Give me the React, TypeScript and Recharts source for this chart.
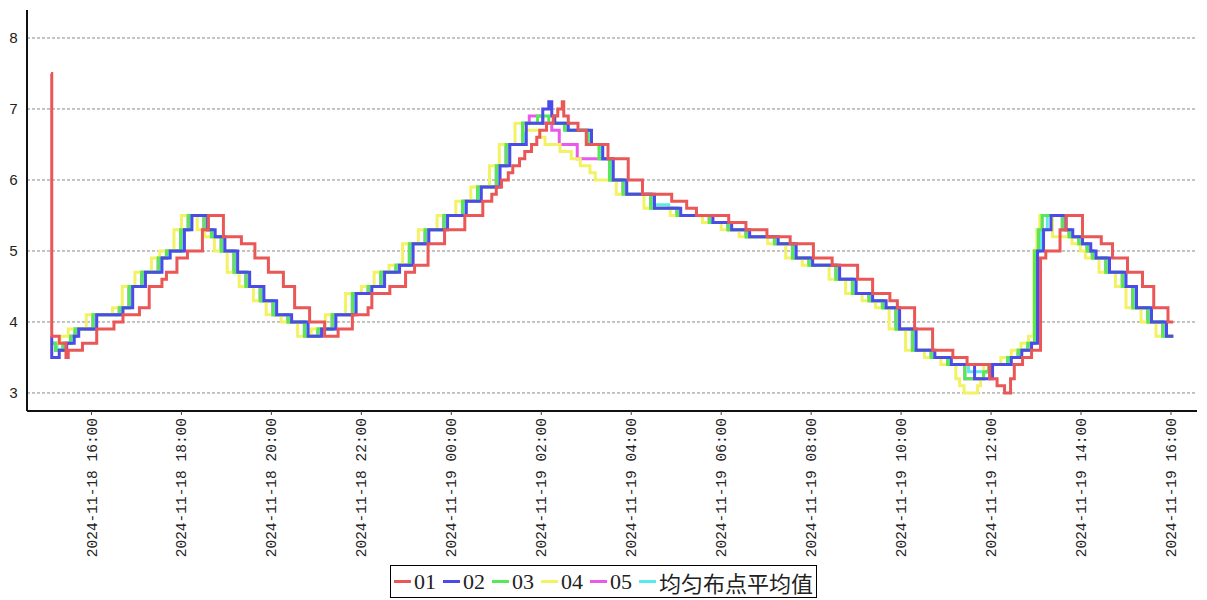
import React from 'react';
import { LineChart, Line, XAxis, YAxis, CartesianGrid, Legend } from 'recharts';

// step points per series: ['day hh:mm', value]
const s01: [string, number][] = [
  ['18 15:06', 7.5], ['18 15:07', 3.8], ['18 15:17', 3.7], ['18 15:26', 3.5], ['18 15:29', 3.6],
  ['18 15:48', 3.7], ['18 16:07', 3.9], ['18 16:30', 4.0], ['18 16:42', 4.1], ['18 17:04', 4.2],
  ['18 17:17', 4.5], ['18 17:34', 4.6], ['18 17:40', 4.7], ['18 17:54', 4.9], ['18 18:08', 5.0],
  ['18 18:28', 5.3], ['18 18:36', 5.5], ['18 18:56', 5.2], ['18 19:20', 5.1], ['18 19:38', 4.9],
  ['18 19:56', 4.7], ['18 20:16', 4.5], ['18 20:31', 4.2], ['18 20:51', 4.0], ['18 21:11', 3.8],
  ['18 21:29', 3.9], ['18 21:48', 4.1], ['18 22:09', 4.2], ['18 22:14', 4.4], ['18 22:38', 4.5],
  ['18 22:59', 4.7], ['18 23:11', 4.8], ['18 23:29', 5.1], ['18 23:51', 5.3], ['19 00:18', 5.5],
  ['19 00:42', 5.7], ['19 00:54', 5.8], ['19 01:00', 5.9], ['19 01:07', 6.0], ['19 01:16', 6.1],
  ['19 01:22', 6.2], ['19 01:31', 6.3], ['19 01:38', 6.4], ['19 01:47', 6.5], ['19 01:54', 6.6],
  ['19 01:58', 6.7], ['19 02:07', 6.8], ['19 02:16', 6.9], ['19 02:22', 7.0], ['19 02:28', 7.1],
  ['19 02:30', 6.9], ['19 02:36', 6.8], ['19 02:49', 6.7], ['19 03:00', 6.5], ['19 03:29', 6.3],
  ['19 03:56', 6.0], ['19 04:15', 5.8], ['19 04:54', 5.7], ['19 05:14', 5.6], ['19 05:27', 5.5],
  ['19 06:10', 5.4], ['19 06:33', 5.3], ['19 07:01', 5.2], ['19 07:32', 5.1], ['19 08:03', 4.9],
  ['19 08:28', 4.8], ['19 09:02', 4.6], ['19 09:22', 4.4], ['19 09:45', 4.3], ['19 09:55', 4.2],
  ['19 10:18', 3.9], ['19 10:42', 3.6], ['19 11:09', 3.5], ['19 11:28', 3.4], ['19 11:58', 3.2],
  ['19 12:08', 3.1], ['19 12:18', 3.0], ['19 12:26', 3.2], ['19 12:31', 3.4], ['19 12:42', 3.5],
  ['19 12:54', 3.6], ['19 13:06', 4.9], ['19 13:13', 5.0], ['19 13:32', 5.3], ['19 13:40', 5.5],
  ['19 14:02', 5.2], ['19 14:27', 5.1], ['19 14:42', 4.9], ['19 15:02', 4.7], ['19 15:22', 4.5],
  ['19 15:37', 4.2], ['19 15:56', 4.0], ['19 16:03', 4.0],
];

const s02: [string, number][] = [
  ['18 15:06', 3.8], ['18 15:07', 3.5], ['18 15:17', 3.6], ['18 15:27', 3.7], ['18 15:37', 3.8],
  ['18 15:43', 3.9], ['18 16:07', 4.1], ['18 16:42', 4.2], ['18 16:55', 4.5], ['18 17:12', 4.7],
  ['18 17:34', 4.9], ['18 17:45', 5.0], ['18 18:04', 5.3], ['18 18:14', 5.5], ['18 18:35', 5.3],
  ['18 18:45', 5.2], ['18 18:58', 5.0], ['18 19:15', 4.7], ['18 19:31', 4.5], ['18 19:50', 4.3],
  ['18 20:07', 4.1], ['18 20:27', 4.0], ['18 20:49', 3.8], ['18 21:07', 3.9], ['18 21:26', 4.1],
  ['18 21:53', 4.4], ['18 22:14', 4.5], ['18 22:31', 4.7], ['18 22:51', 4.8], ['18 23:09', 5.1],
  ['18 23:30', 5.3], ['18 23:55', 5.5], ['19 00:20', 5.7], ['19 00:40', 5.9], ['19 01:05', 6.2],
  ['19 01:18', 6.5], ['19 01:40', 6.8], ['19 02:02', 7.0], ['19 02:10', 7.1], ['19 02:14', 6.9],
  ['19 02:18', 6.8], ['19 02:36', 6.7], ['19 03:07', 6.5], ['19 03:22', 6.3], ['19 03:36', 6.0],
  ['19 03:54', 5.8], ['19 04:31', 5.6], ['19 05:06', 5.5], ['19 05:49', 5.4], ['19 06:14', 5.3],
  ['19 06:38', 5.2], ['19 07:16', 5.1], ['19 07:40', 4.9], ['19 08:02', 4.8], ['19 08:38', 4.6],
  ['19 09:00', 4.4], ['19 09:22', 4.3], ['19 09:40', 4.2], ['19 09:58', 3.9], ['19 10:20', 3.6],
  ['19 10:45', 3.5], ['19 11:07', 3.4], ['19 11:38', 3.2], ['19 12:02', 3.4], ['19 12:27', 3.5],
  ['19 12:41', 3.6], ['19 12:54', 3.7], ['19 13:02', 5.0], ['19 13:10', 5.3], ['19 13:20', 5.5],
  ['19 13:40', 5.3], ['19 13:49', 5.2], ['19 14:02', 5.1], ['19 14:13', 5.0], ['19 14:20', 4.9],
  ['19 14:38', 4.7], ['19 15:00', 4.5], ['19 15:14', 4.2], ['19 15:34', 4.0], ['19 15:54', 3.8],
  ['19 16:03', 3.8],
];

const s03: [string, number][] = [
  ['18 15:06', 3.7], ['18 15:12', 3.6], ['18 15:22', 3.7], ['18 15:32', 3.8], ['18 15:38', 3.9],
  ['18 16:02', 4.1], ['18 16:37', 4.2], ['18 16:50', 4.5], ['18 17:07', 4.7], ['18 17:29', 4.9],
  ['18 17:40', 5.0], ['18 17:59', 5.3], ['18 18:09', 5.5], ['18 18:30', 5.3], ['18 18:40', 5.2],
  ['18 18:53', 5.0], ['18 19:10', 4.7], ['18 19:26', 4.5], ['18 19:45', 4.3], ['18 20:02', 4.1],
  ['18 20:22', 4.0], ['18 20:44', 3.8], ['18 21:02', 3.9], ['18 21:21', 4.1], ['18 21:48', 4.4],
  ['18 22:09', 4.5], ['18 22:26', 4.7], ['18 22:46', 4.8], ['18 23:04', 5.1], ['18 23:25', 5.3],
  ['18 23:50', 5.5], ['19 00:15', 5.7], ['19 00:35', 5.9], ['19 01:00', 6.2], ['19 01:13', 6.5],
  ['19 01:35', 6.8], ['19 01:55', 6.9], ['19 02:10', 6.8], ['19 02:31', 6.7], ['19 03:02', 6.5],
  ['19 03:17', 6.3], ['19 03:31', 6.0], ['19 03:49', 5.8], ['19 04:26', 5.6], ['19 05:01', 5.5],
  ['19 05:44', 5.4], ['19 06:09', 5.3], ['19 06:33', 5.2], ['19 07:11', 5.1], ['19 07:35', 4.9],
  ['19 07:57', 4.8], ['19 08:33', 4.6], ['19 08:55', 4.4], ['19 09:17', 4.3], ['19 09:35', 4.2],
  ['19 09:53', 3.9], ['19 10:15', 3.6], ['19 10:40', 3.5], ['19 11:02', 3.4], ['19 11:25', 3.2],
  ['19 11:50', 3.3], ['19 11:57', 3.4], ['19 12:22', 3.5], ['19 12:36', 3.6], ['19 12:49', 3.7],
  ['19 12:58', 5.0], ['19 13:03', 5.3], ['19 13:08', 5.5], ['19 13:35', 5.3], ['19 13:44', 5.2],
  ['19 13:57', 5.1], ['19 14:08', 5.0], ['19 14:15', 4.9], ['19 14:33', 4.7], ['19 14:55', 4.5],
  ['19 15:09', 4.2], ['19 15:29', 4.0], ['19 15:49', 3.8], ['19 16:03', 3.8],
];

const s04: [string, number][] = [
  ['18 15:06', 3.7], ['18 15:18', 3.8], ['18 15:29', 3.9], ['18 15:53', 4.1], ['18 16:28', 4.2],
  ['18 16:41', 4.5], ['18 16:58', 4.7], ['18 17:20', 4.9], ['18 17:31', 5.0], ['18 17:50', 5.3],
  ['18 18:00', 5.5], ['18 18:21', 5.3], ['18 18:31', 5.2], ['18 18:44', 5.0], ['18 19:01', 4.7],
  ['18 19:17', 4.5], ['18 19:36', 4.3], ['18 19:53', 4.1], ['18 20:13', 4.0], ['18 20:35', 3.8],
  ['18 20:53', 3.9], ['18 21:12', 4.1], ['18 21:39', 4.4], ['18 22:00', 4.5], ['18 22:17', 4.7],
  ['18 22:37', 4.8], ['18 22:55', 5.1], ['18 23:16', 5.3], ['18 23:41', 5.5], ['19 00:06', 5.7],
  ['19 00:26', 5.9], ['19 00:51', 6.2], ['19 01:04', 6.5], ['19 01:25', 6.8], ['19 01:38', 6.7],
  ['19 01:58', 6.6], ['19 02:05', 6.5], ['19 02:25', 6.4], ['19 02:40', 6.3], ['19 02:52', 6.2],
  ['19 03:05', 6.1], ['19 03:12', 6.0], ['19 03:40', 5.8], ['19 04:17', 5.6], ['19 04:52', 5.5],
  ['19 05:35', 5.4], ['19 06:00', 5.3], ['19 06:24', 5.2], ['19 07:02', 5.1], ['19 07:26', 4.9],
  ['19 07:48', 4.8], ['19 08:24', 4.6], ['19 08:46', 4.4], ['19 09:08', 4.3], ['19 09:26', 4.2],
  ['19 09:44', 3.9], ['19 10:06', 3.6], ['19 10:31', 3.5], ['19 10:53', 3.4], ['19 11:13', 3.2],
  ['19 11:18', 3.1], ['19 11:24', 3.0], ['19 11:42', 3.1], ['19 11:46', 3.2], ['19 11:50', 3.4],
  ['19 12:13', 3.5], ['19 12:27', 3.6], ['19 12:40', 3.7], ['19 12:50', 3.8], ['19 12:57', 5.0],
  ['19 13:01', 5.3], ['19 13:05', 5.5], ['19 13:22', 5.2], ['19 13:48', 5.1], ['19 13:59', 5.0],
  ['19 14:06', 4.9], ['19 14:24', 4.7], ['19 14:46', 4.5], ['19 15:00', 4.2], ['19 15:20', 4.0],
  ['19 15:40', 3.8], ['19 16:03', 3.8],
];

const s05: [string, number][] = [
  ['18 15:06', 3.7], ['18 15:12', 3.6], ['18 15:22', 3.7], ['18 15:32', 3.8], ['18 15:38', 3.9],
  ['18 16:02', 4.1], ['18 16:37', 4.2], ['18 16:50', 4.5], ['18 17:07', 4.7], ['18 17:29', 4.9],
  ['18 17:40', 5.0], ['18 17:59', 5.3], ['18 18:09', 5.5], ['18 18:30', 5.3], ['18 18:40', 5.2],
  ['18 18:53', 5.0], ['18 19:10', 4.7], ['18 19:26', 4.5], ['18 19:45', 4.3], ['18 20:02', 4.1],
  ['18 20:22', 4.0], ['18 20:44', 3.8], ['18 21:02', 3.9], ['18 21:21', 4.1], ['18 21:48', 4.4],
  ['18 22:09', 4.5], ['18 22:26', 4.7], ['18 22:46', 4.8], ['18 23:04', 5.1], ['18 23:25', 5.3],
  ['18 23:50', 5.5], ['19 00:15', 5.7], ['19 00:35', 5.9], ['19 01:00', 6.2], ['19 01:13', 6.5],
  ['19 01:35', 6.8], ['19 01:44', 6.9], ['19 02:02', 6.8], ['19 02:14', 6.7], ['19 02:24', 6.5],
  ['19 02:48', 6.3], ['19 03:31', 6.0], ['19 03:49', 5.8], ['19 04:26', 5.6], ['19 05:01', 5.5],
  ['19 05:44', 5.4], ['19 06:09', 5.3], ['19 06:33', 5.2], ['19 07:11', 5.1], ['19 07:35', 4.9],
  ['19 07:57', 4.8], ['19 08:33', 4.6], ['19 08:55', 4.4], ['19 09:17', 4.3], ['19 09:35', 4.2],
  ['19 09:53', 3.9], ['19 10:15', 3.6], ['19 10:40', 3.5], ['19 11:02', 3.4], ['19 11:25', 3.2],
  ['19 11:50', 3.3], ['19 11:57', 3.4], ['19 12:22', 3.5], ['19 12:36', 3.6], ['19 12:49', 3.7],
  ['19 12:58', 5.0], ['19 13:03', 5.3], ['19 13:08', 5.5], ['19 13:35', 5.3], ['19 13:44', 5.2],
  ['19 13:57', 5.1], ['19 14:08', 5.0], ['19 14:15', 4.9], ['19 14:33', 4.7], ['19 14:55', 4.5],
  ['19 15:09', 4.2], ['19 15:29', 4.0], ['19 15:49', 3.8], ['19 16:03', 3.8],
];

const sAvg: [string, number][] = [
  ['18 15:06', 3.7], ['18 15:14', 3.6], ['18 15:24', 3.7], ['18 15:34', 3.8], ['18 15:40', 3.9],
  ['18 16:04', 4.1], ['18 16:39', 4.2], ['18 16:52', 4.5], ['18 17:09', 4.7], ['18 17:31', 4.9],
  ['18 17:42', 5.0], ['18 18:01', 5.3], ['18 18:11', 5.5], ['18 18:32', 5.3], ['18 18:42', 5.2],
  ['18 18:55', 5.0], ['18 19:12', 4.7], ['18 19:28', 4.5], ['18 19:47', 4.3], ['18 20:04', 4.1],
  ['18 20:24', 4.0], ['18 20:46', 3.8], ['18 21:04', 3.9], ['18 21:23', 4.1], ['18 21:50', 4.4],
  ['18 22:11', 4.5], ['18 22:28', 4.7], ['18 22:48', 4.8], ['18 23:06', 5.1], ['18 23:27', 5.3],
  ['18 23:52', 5.5], ['19 00:17', 5.7], ['19 00:37', 5.9], ['19 01:02', 6.2], ['19 01:15', 6.5],
  ['19 01:37', 6.8], ['19 02:33', 6.7], ['19 03:04', 6.5], ['19 03:19', 6.3],
  ['19 03:33', 6.0], ['19 03:51', 5.8], ['19 04:28', 5.65], ['19 04:50', 5.6], ['19 05:03', 5.5],
  ['19 05:46', 5.4], ['19 06:11', 5.3], ['19 06:35', 5.2], ['19 07:13', 5.1], ['19 07:37', 4.9],
  ['19 07:59', 4.8], ['19 08:35', 4.6], ['19 08:57', 4.4], ['19 09:19', 4.3], ['19 09:37', 4.2],
  ['19 09:55', 3.9], ['19 10:17', 3.6], ['19 10:42', 3.5], ['19 11:04', 3.4], ['19 11:30', 3.3],
  ['19 11:59', 3.4], ['19 12:24', 3.5], ['19 12:38', 3.6], ['19 12:51', 3.7], ['19 12:59', 5.0],
  ['19 13:06', 5.3], ['19 13:15', 5.5], ['19 13:37', 5.3], ['19 13:46', 5.2], ['19 13:59', 5.1],
  ['19 14:10', 5.0], ['19 14:17', 4.9], ['19 14:35', 4.7], ['19 14:57', 4.5], ['19 15:11', 4.2],
  ['19 15:31', 4.0], ['19 15:51', 3.8], ['19 16:03', 3.8],
];

const xTicks = [960, 1080, 1200, 1320, 1440, 1560, 1680, 1800, 1920, 2040, 2160, 2280, 2400];
const yTicks = [3, 4, 5, 6, 7, 8];

// minutes since 2024-11-18 00:00
const toMin = (s: string) => {
  const [d, hm] = s.split(' ');
  const [h, m] = hm.split(':').map(Number);
  return (Number(d) - 18) * 1440 + h * 60 + m;
};
const toRows = (pts: [string, number][]) => pts.map(([t, v]) => ({ t: toMin(t), v }));

const pad = (n: number) => String(n).padStart(2, '0');
const fmtTime = (m: number) => {
  const day = 18 + Math.floor(m / 1440);
  const r = m % 1440;
  return `2024-11-${day} ${pad(Math.floor(r / 60))}:${pad(r % 60)}`;
};

const series = [
  { name: '01', color: '#ea5757', pts: s01 },
  { name: '02', color: '#4b4be8', pts: s02 },
  { name: '03', color: '#55ea55', pts: s03 },
  { name: '04', color: '#f2f264', pts: s04 },
  { name: '05', color: '#ea5aea', pts: s05 },
  { name: '均匀布点平均值', color: '#5aeaea', pts: sAvg },
];

const XTick = (props: any) => {
  const { x, y, payload } = props;
  return (
    <text
      x={x}
      y={y}
      transform={`rotate(-90, ${x}, ${y})`}
      textAnchor="end"
      dy="0.35em"
      fill="#222"
      fontSize={14.5}
      fontFamily="'Liberation Mono', monospace"
    >
      {fmtTime(payload.value)}
    </text>
  );
};

const LegendBox = () => (
  <div style={{ display: 'flex', justifyContent: 'center' }}>
    <div
      style={{
        display: 'inline-flex',
        alignItems: 'center',
        height: 33,
        boxSizing: 'border-box',
        border: '1px solid #000',
        padding: '0 3px',
        fontFamily: "'Liberation Serif', 'Noto Sans CJK SC', serif",
        fontSize: 22,
        color: '#222',
      }}
    >
      {series.map((s, i) => (
        <span key={s.name} style={{ display: 'inline-flex', alignItems: 'center', marginRight: i < series.length - 1 ? 7 : 0 }}>
          <span style={{ display: 'inline-block', width: 17, height: 3, background: s.color, marginRight: 3 }} />
          <span style={i === series.length - 1 ? { fontFamily: "'Noto Sans CJK SC'", fontSize: 22 } : undefined}>{s.name}</span>
        </span>
      ))}
    </div>
  </div>
);

const drawOrder = [5, 4, 3, 2, 1, 0];

export default function App() {
  return (
    <div style={{ position: 'absolute', left: 0, top: 0, background: '#fff' }}>
      <LineChart width={1207} height={600} margin={{ top: 10, right: 10, left: 0, bottom: 2 }}>
        <CartesianGrid vertical={false} stroke="#888" strokeDasharray="3 2" horizontalValues={yTicks} />
        <XAxis
          type="number"
          dataKey="t"
          domain={[874, 2434.7]}
          ticks={xTicks}
          allowDataOverflow
          height={154}
          tick={<XTick />}
          tickSize={4}
          tickMargin={3}
          interval={0}
          axisLine={{ stroke: '#111', strokeWidth: 2 }}
          tickLine={{ stroke: '#444' }}
        />
        <YAxis
          type="number"
          domain={[2.746, 8.394]}
          ticks={yTicks}
          allowDataOverflow
          width={27}
          tickSize={0}
          tickMargin={9}
          axisLine={{ stroke: '#111', strokeWidth: 2 }}
          tick={{ fill: '#222', fontSize: 15, fontFamily: "'Liberation Mono', monospace" }}
        />
        <Legend verticalAlign="bottom" content={<LegendBox />} wrapperStyle={{ left: 0, width: 1207 }} />
        {drawOrder.map((i) => {
          const s = series[i];
          return (
            <Line
              key={s.name}
              data={toRows(s.pts)}
              dataKey="v"
              name={s.name}
              type="stepAfter"
              stroke={s.color}
              strokeWidth={3}
              dot={false}
              activeDot={false}
              isAnimationActive={false}
            />
          );
        })}
      </LineChart>
    </div>
  );
}
